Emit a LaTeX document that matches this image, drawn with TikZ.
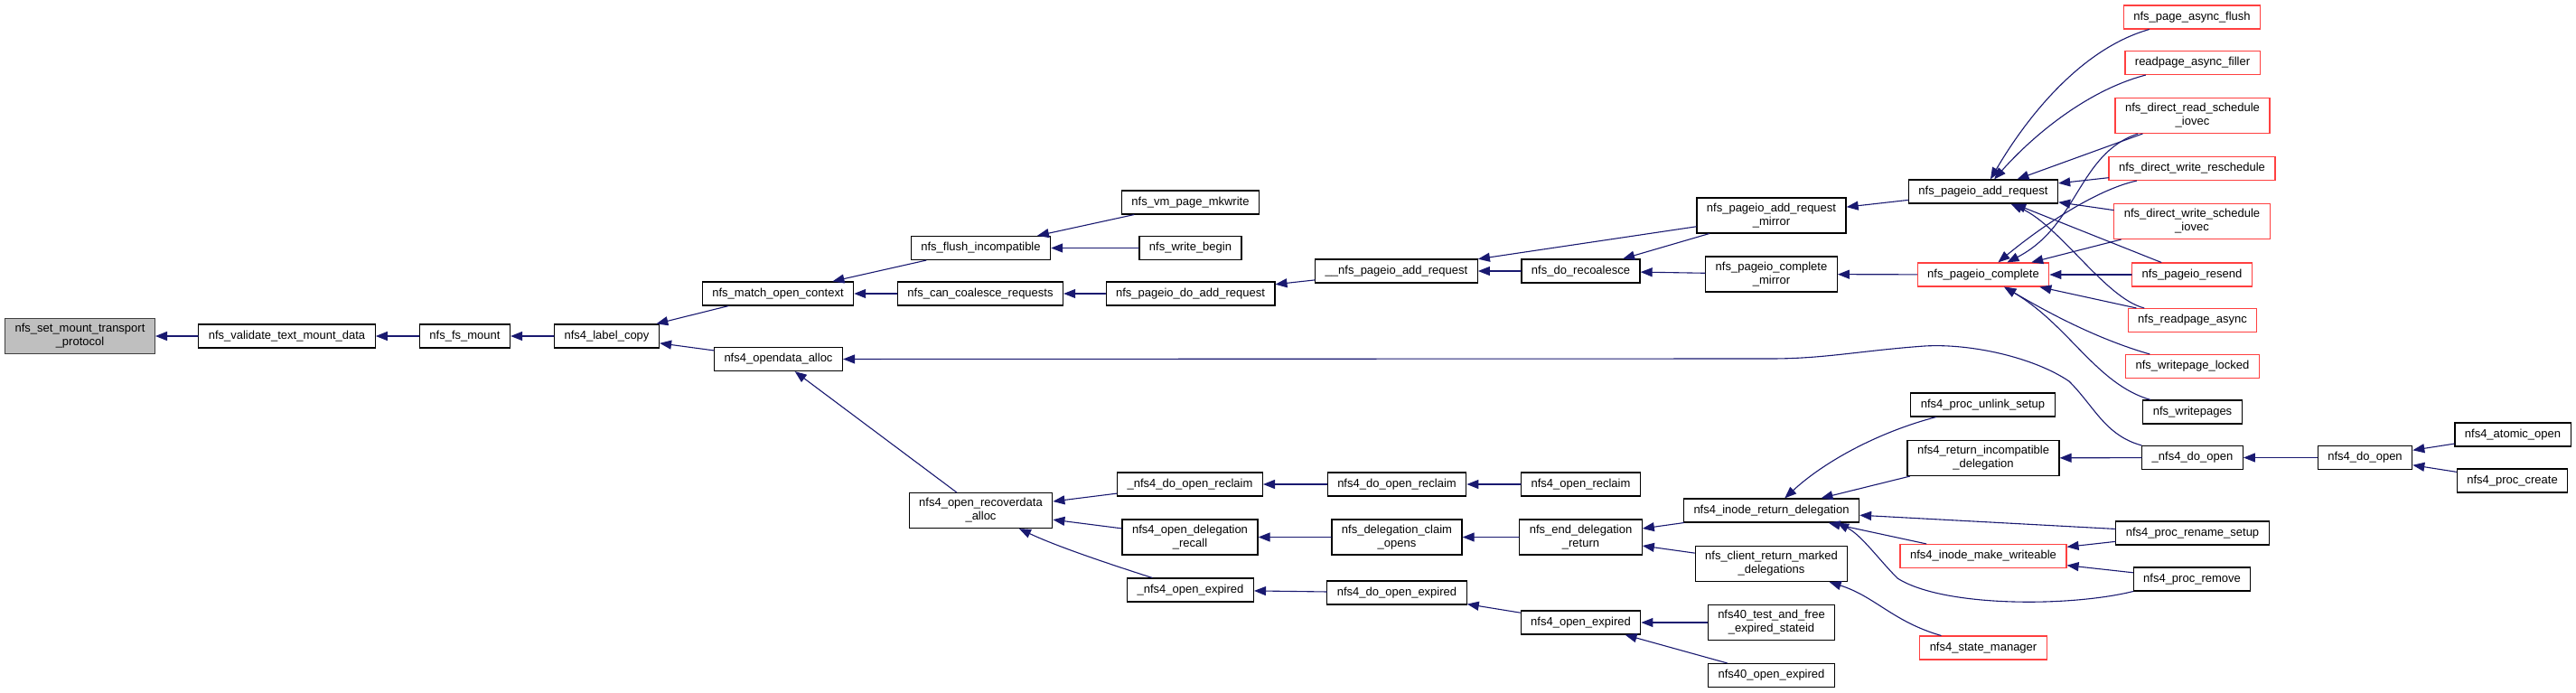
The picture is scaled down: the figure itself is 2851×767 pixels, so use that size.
\documentclass[tikz,border=0pt]{standalone}
\usepackage{fontspec}
\setmainfont{Liberation Sans}
\usetikzlibrary{arrows.meta}
\definecolor{edgeblue}{HTML}{191970}
\definecolor{truncred}{HTML}{FF4040}
\definecolor{rootgrey}{HTML}{BFBFBF}

\begin{document}
\begin{tikzpicture}[x=1pt,y=-1pt,line cap=round,
  fn/.style={draw=black,line width=1.2pt,inner xsep=11pt,inner ysep=6pt,
    minimum height=26pt,align=center,font=\fontsize{13}{15}\selectfont},
  fnred/.style={fn,draw=truncred},
  fnroot/.style={fn,draw=black!75,fill=rootgrey},
  call/.style={edgeblue,line width=1.1pt,-{Triangle[length=13pt,width=10pt]}}]
  \useasboundingbox (0,0) rectangle (2851,767);

  % ---------------- root and its direct callers ----------------
  \node[fnroot] (setmount) at (88.5,372) {nfs\_set\_mount\_transport\\\_protocol};
  \node[fn] (validate)  at (317.5,372) {nfs\_validate\_text\_mount\_data};
  \node[fn] (fsmount)   at (514.5,372) {nfs\_fs\_mount};
  \node[fn] (labelcopy) at (671.5,372) {nfs4\_label\_copy};
  \node[fn] (matchctx)  at (861,325)   {nfs\_match\_open\_context};
  \node[fn] (odalloc)   at (861.5,397.5) {nfs4\_opendata\_alloc};

  % ---------------- upper branch: open context / pageio ----------------
  \node[fn] (vmmkwrite)  at (1317.5,224)   {nfs\_vm\_page\_mkwrite};
  \node[fn] (flushinc)   at (1085.5,274.5) {nfs\_flush\_incompatible};
  \node[fn] (writebegin) at (1317.5,274.5) {nfs\_write\_begin};
  \node[fn] (cancoal)    at (1085,325)     {nfs\_can\_coalesce\_requests};
  \node[fn] (doaddreq)   at (1317.5,325)   {nfs\_pageio\_do\_add\_request};
  \node[fn] (uuaddreq)   at (1545.5,300)   {\_\_nfs\_pageio\_add\_request};
  \node[fn] (recoal)     at (1749.5,300)   {nfs\_do\_recoalesce};
  \node[fn] (addmirror)  at (1960.5,238.5) {nfs\_pageio\_add\_request\\\_mirror};
  \node[fn] (cmpmirror)  at (1960.5,303.5) {nfs\_pageio\_complete\\\_mirror};
  \node[fn] (addreq)     at (2195,212)     {nfs\_pageio\_add\_request};
  \node[fnred] (complete) at (2195,304)    {nfs\_pageio\_complete};

  % right column, mostly truncated callers
  \node[fnred] (asyncflush)  at (2426,19)     {nfs\_page\_async\_flush};
  \node[fnred] (asyncfiller) at (2426.5,69.5) {readpage\_async\_filler};
  \node[fnred] (dreadsched)  at (2426.5,128)  {nfs\_direct\_read\_schedule\\\_iovec};
  \node[fnred] (dwresched)   at (2426,186.5)  {nfs\_direct\_write\_reschedule};
  \node[fnred] (dwsched)     at (2426,245)    {nfs\_direct\_write\_schedule\\\_iovec};
  \node[fnred] (resend)      at (2426,304)    {nfs\_pageio\_resend};
  \node[fnred] (rpasync)     at (2426.5,354.5) {nfs\_readpage\_async};
  \node[fnred] (wplocked)    at (2426.5,405.5) {nfs\_writepage\_locked};
  \node[fn]    (writepages)  at (2426.5,456)  {nfs\_writepages};

  % ---------------- lower branch: recover / delegation ----------------
  \node[fn] (recovalloc)  at (1085.5,565) {nfs4\_open\_recoverdata\\\_alloc};
  \node[fn] (udoreclaim)  at (1317,536)   {\_nfs4\_do\_open\_reclaim};
  \node[fn] (doreclaim)   at (1546,536)   {nfs4\_do\_open\_reclaim};
  \node[fn] (openreclaim) at (1749.5,536) {nfs4\_open\_reclaim};
  \node[fn] (delegrecall) at (1317,594.5) {nfs4\_open\_delegation\\\_recall};
  \node[fn] (claimopens)  at (1546,594.5) {nfs\_delegation\_claim\\\_opens};
  \node[fn] (enddeleg)    at (1749.5,594.5) {nfs\_end\_delegation\\\_return};
  \node[fn] (uopenexp)    at (1317.5,653) {\_nfs4\_open\_expired};
  \node[fn] (doopenexp)   at (1546,656)   {nfs4\_do\_open\_expired};
  \node[fn] (openexp)     at (1749.5,689) {nfs4\_open\_expired};

  \node[fn] (iretdel)     at (1960.5,565) {nfs4\_inode\_return\_delegation};
  \node[fn] (crmd)        at (1960.5,624) {nfs\_client\_return\_marked\\\_delegations};
  \node[fn] (testfree)    at (1960.5,689) {nfs40\_test\_and\_free\\\_expired\_stateid};
  \node[fn] (o40expired)  at (1960.5,747.5) {nfs40\_open\_expired};

  \node[fn] (unlink)      at (2194.5,448) {nfs4\_proc\_unlink\_setup};
  \node[fn] (retincompat) at (2195,507)   {nfs4\_return\_incompatible\\\_delegation};
  \node[fnred] (mkwriteable) at (2195,615.5) {nfs4\_inode\_make\_writeable};
  \node[fnred] (statemgr) at (2195,717)   {nfs4\_state\_manager};
  \node[fn] (udoopen)     at (2426.5,506.5) {\_nfs4\_do\_open};
  \node[fn] (renamesetup) at (2426.5,590) {nfs4\_proc\_rename\_setup};
  \node[fn] (premove)     at (2426,641)   {nfs4\_proc\_remove};
  \node[fn] (doopen)      at (2617.5,506.5) {nfs4\_do\_open};
  \node[fn] (atomicopen)  at (2781,481)   {nfs4\_atomic\_open};
  \node[fn] (pcreate)     at (2780.5,532) {nfs4\_proc\_create};

  % ---------------- straight calls (caller/callee) ----------------
  \foreach \a/\b in {validate/setmount,fsmount/validate,labelcopy/fsmount,
      matchctx/labelcopy,odalloc/labelcopy,flushinc/matchctx,cancoal/matchctx,
      vmmkwrite/flushinc,writebegin/flushinc,doaddreq/cancoal,uuaddreq/doaddreq,
      addmirror/uuaddreq,recoal/uuaddreq,addmirror/recoal,cmpmirror/recoal,
      addreq/addmirror,complete/cmpmirror,dreadsched/addreq,dwresched/addreq,
      dwsched/addreq,resend/addreq,dwsched/complete,resend/complete,rpasync/complete,
      recovalloc/odalloc,udoreclaim/recovalloc,delegrecall/recovalloc,
      doreclaim/udoreclaim,openreclaim/doreclaim,claimopens/delegrecall,
      enddeleg/claimopens,iretdel/enddeleg,crmd/enddeleg,doopenexp/uopenexp,
      openexp/doopenexp,testfree/openexp,o40expired/openexp,retincompat/iretdel,
      renamesetup/iretdel,mkwriteable/iretdel,renamesetup/mkwriteable,
      premove/mkwriteable,udoopen/retincompat,doopen/udoopen,atomicopen/doopen,
      pcreate/doopen}
    \draw[call] (\a) -- (\b);

  % ---------------- curved calls ----------------
  \draw[call] (asyncflush) .. controls (2300,55) and (2240,135) .. (addreq);
  \draw[call] (asyncfiller) .. controls (2310,100) and (2250,150) .. (addreq);
  \draw[call] (rpasync) .. controls (2330,330) and (2280,250) .. (addreq);
  \draw[call] (dreadsched) .. controls (2300,170) and (2300,250) .. (complete);
  \draw[call] (dwresched) .. controls (2320,210) and (2260,250) .. (complete);
  \draw[call] (wplocked) .. controls (2320,375) and (2265,345) .. (complete);
  \draw[call] (writepages) .. controls (2320,425) and (2290,360) .. (complete);
  \draw[call] (udoopen.north west) .. controls (2330,482) and (2318,450) .. (2290,422)
    .. controls (2250,395) and (2180,380) .. (2130,383)
    .. controls (2060,388) and (2020,397) .. (1960,397) -- (odalloc);
  \draw[call] (uopenexp) .. controls (1230,625) and (1170,605) .. (recovalloc);
  \draw[call] (unlink) .. controls (2080,478) and (2020,510) .. (iretdel);
  \draw[call] (premove.south west) .. controls (2290,672) and (2150,672) .. (2100,640)
    .. controls (2080,620) and (2060,592) .. ([xshift=-25pt]iretdel.south east);
  \draw[call] (statemgr) .. controls (2095,688) and (2075,660) .. (crmd);
\end{tikzpicture}
\end{document}
